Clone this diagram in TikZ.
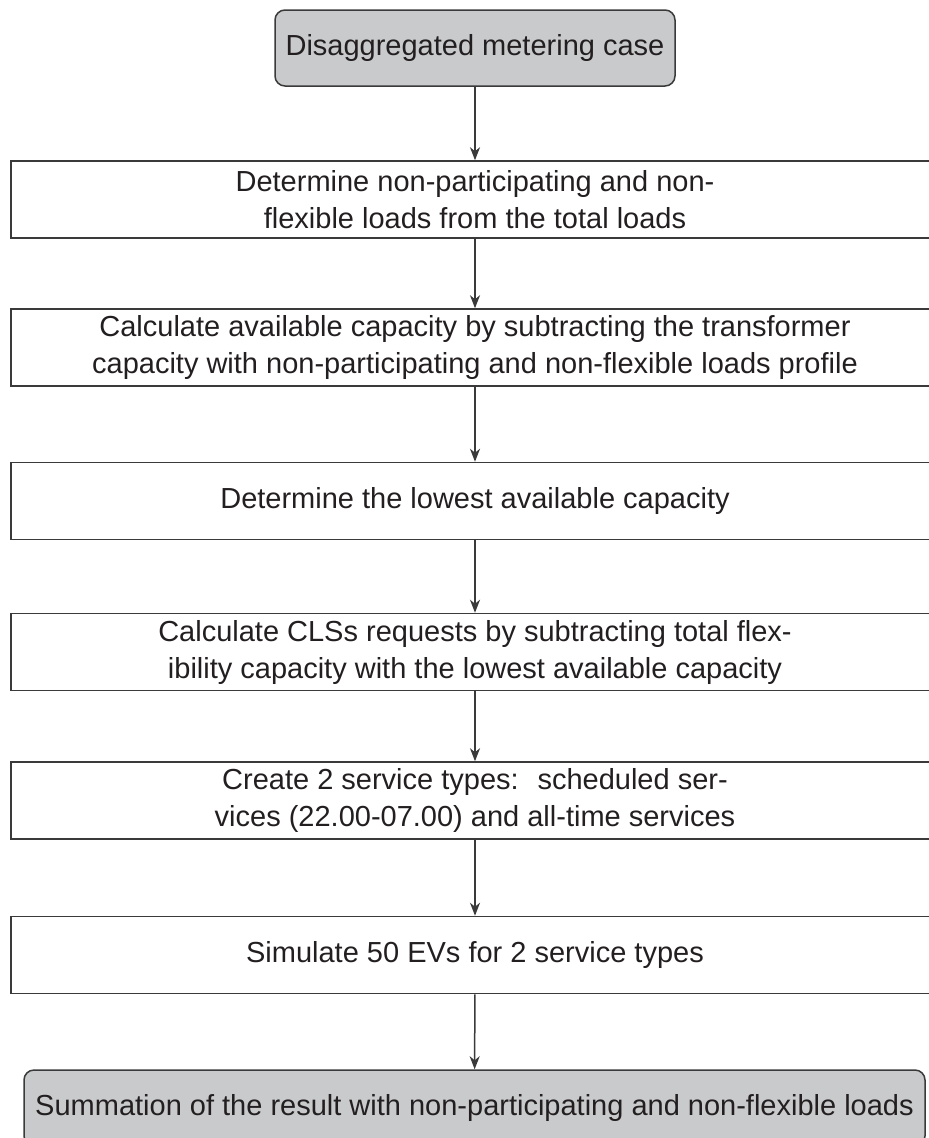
\documentclass[tikz,border=0pt]{standalone}
\usepackage{fontspec}
\setmainfont{Liberation Sans}
\usetikzlibrary{arrows.meta}
\definecolor{boxgray}{HTML}{C9CACC}
\definecolor{ink}{HTML}{231F20}
\definecolor{edgecol}{HTML}{3A3A3A}
\begin{document}
\begin{tikzpicture}[x=1pt,y=-1pt,
  every node/.style={font=\fontsize{29}{37}\selectfont, text=ink, align=center, inner sep=0pt},
  stepbox/.style={draw=edgecol, line width=1.5pt, minimum width=928pt, minimum height=77pt},
  termbox/.style={draw=edgecol, line width=1.5pt, fill=boxgray, rounded corners=10pt, minimum height=76pt},
  flow/.style={draw=edgecol, line width=1.5pt, -{Stealth[length=13pt,width=10pt,inset=4pt]}}]
\useasboundingbox (0,0) rectangle (929,1138);
\clip (0,0) rectangle (929,1138);
\node[termbox, minimum width=400pt] (n1) at (475,48) {Disaggregated metering case};
\node[stepbox] (n2) at (475,199.5) {Determine non-participating and non-\\flexible loads from the total loads};
\node[stepbox] (n3) at (475,347.5) {Calculate available capacity by subtracting the transformer\\capacity with non-participating and non-flexible loads profile};
\node[stepbox] (n4) at (475,501) {Determine the lowest available capacity};
\node[stepbox] (n5) at (475,652) {Calculate CLSs requests by subtracting total flex-\\ibility capacity with the lowest available capacity};
\node[stepbox] (n6) at (475,800.5) {Create 2 service types:~ scheduled ser-\\vices (22.00-07.00) and all-time services};
\node[stepbox] (n7) at (475,955) {Simulate 50 EVs for 2 service types};
\node[termbox, minimum width=901pt] (n8) at (474.5,1108) {Summation of the result with non-participating and non-flexible loads};
\draw[flow] (n1) -- (n2);
\draw[flow] (n2) -- (n3);
\draw[flow] (n3) -- (n4);
\draw[flow] (n4) -- (n5);
\draw[flow] (n5) -- (n6);
\draw[flow] (n6) -- (n7);
\draw[flow] (n7) -- (n8);
\end{tikzpicture}
\end{document}
